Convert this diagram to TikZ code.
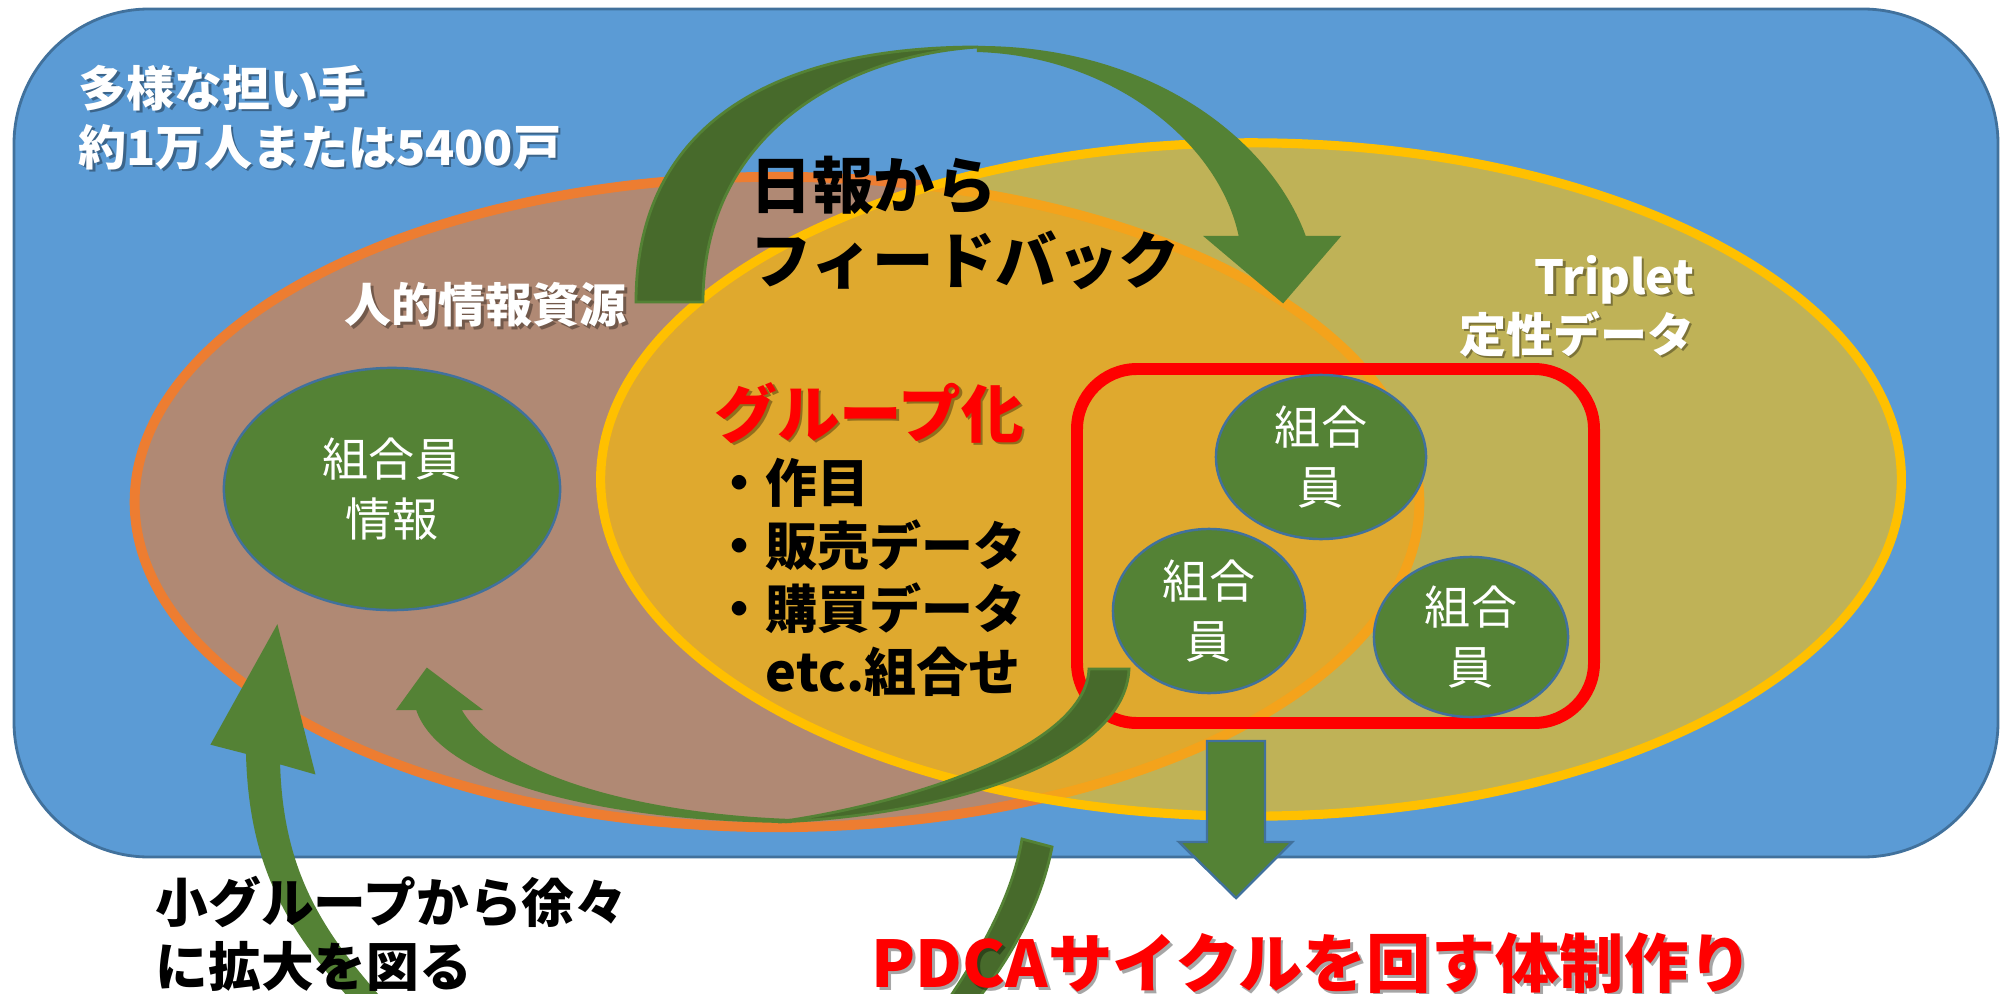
\documentclass[tikz,border=0pt]{standalone}
\usepackage{fontspec}
\setmainfont{Noto Sans CJK JP}
\usetikzlibrary{shapes.geometric}
\definecolor{bgblue}{HTML}{5B9BD5}
\definecolor{bgedge}{HTML}{41719C}
\definecolor{orfill}{HTML}{B08974}
\definecolor{oredge}{HTML}{ED7D31}
\definecolor{yefill}{HTML}{BFB257}
\definecolor{yeedge}{HTML}{FFC000}
\definecolor{goldmix}{HTML}{DFA92E}
\definecolor{ormix}{HTML}{F4A31B}
\definecolor{grn}{HTML}{548235}
\definecolor{dkgrn}{HTML}{476A2B}
\definecolor{redbox}{HTML}{FF0000}
\newcommand{\fsz}[2]{\fontsize{#1}{#2}\selectfont}
\tikzset{
  member/.style={ellipse, draw=bgedge, line width=0.7pt, fill=grn, text=white,
    align=center, inner sep=0pt, font=\fsz{13.1pt}{16.8pt}},
  lab/.style={inner sep=0pt, font=\bfseries},
  shadowlab/.style={text=black, opacity=0.35},
  lightarrow/.style={fill=grn, draw=grn, line width=0.6pt},
  darkarrow/.style={fill=dkgrn, draw=grn, line width=0.8pt},
}
\begin{document}
\begin{tikzpicture}[x=0.01cm,y=-0.01cm]
\useasboundingbox (0,0) rectangle (2000,994);
% background panel
\draw[fill=bgblue, draw=bgedge, line width=0.8pt, rounded corners=1.35cm] (14,9) rectangle (1998,857);
% human information resources ellipse
\draw[fill=orfill, draw=oredge, line width=2.8pt] (777,502) ellipse [x radius=6.42cm, y radius=3.25cm];
% triplet ellipse
\fill[yefill] (1251,479.5) ellipse [x radius=6.5cm, y radius=3.365cm];
\begin{scope}
  \clip (1251,479.5) ellipse [x radius=6.5cm, y radius=3.365cm];
  \fill[goldmix] (777,502) ellipse [x radius=6.42cm, y radius=3.25cm];
  \draw[ormix, line width=2.8pt] (777,502) ellipse [x radius=6.42cm, y radius=3.25cm];
\end{scope}
\draw[yeedge, line width=2.6pt] (1251,479.5) ellipse [x radius=6.5cm, y radius=3.365cm];
% red group box
\draw[redbox, line width=3.4pt, rounded corners=0.6cm] (1077,369) rectangle (1594,723);
% feedback arrow (top)
\path[darkarrow] (636,302) .. controls (636,120) and (780,47) .. (978,47)
  .. controls (850,55) and (703,130) .. (703,302) -- cycle;
\path[lightarrow] (978,47) .. controls (1150,47) and (1270,140) .. (1305,237)
  -- (1339,237) -- (1283,302) -- (1206,237) -- (1240,237)
  .. controls (1220,140) and (1110,55) .. (978,51) -- cycle;
% arrow from group box back to resources
\path[darkarrow] (1089,669) -- (1129,669) .. controls (1125,760) and (950,815) .. (778,822)
  .. controls (900,805) and (1085,750) .. (1089,669) -- cycle;
\path[lightarrow] (790,822) .. controls (600,820) and (440,780) .. (417,709)
  -- (398,709) -- (427,669) -- (480,709) -- (460,709)
  .. controls (500,780) and (650,815) .. (790,820) -- cycle;
% expansion arrow (bottom)
\path[darkarrow] (1022,839) -- (1052,847) .. controls (1040,910) and (1005,965) .. (977,1000)
  -- (948,1000) .. controls (975,960) and (1012,900) .. (1022,839) -- cycle;
\path[lightarrow] (352,1000) .. controls (290,930) and (250,870) .. (247,753)
  -- (212,744) -- (277,627) -- (314,773) -- (279,763)
  .. controls (282,870) and (320,930) .. (382,1000) -- cycle;
% down arrow
\draw[fill=grn, draw=bgedge, line width=0.7pt] (1207,741) -- (1265,741) -- (1265,842) -- (1292,842)
  -- (1236,898) -- (1179,842) -- (1207,842) -- cycle;
% member ellipses
\node[member, minimum width=3.36cm, minimum height=2.42cm] (m0) at (392,489) {組合員\\情報};
\node[member, minimum width=2.10cm, minimum height=1.64cm] (m1) at (1321,457) {組合\\員};
\node[member, minimum width=1.92cm, minimum height=1.64cm] (m2) at (1209,611) {組合\\員};
\node[member, minimum width=1.94cm, minimum height=1.60cm] (m3) at (1471,637) {組合\\員};
% labels
\node[lab, shadowlab, anchor=west, align=left, font=\bfseries\fsz{13.66pt}{16.8pt}] (t1s) at (80.5,120) {多様な担い手\\約1万人または5400戸};
\node[lab, text=white, anchor=west, align=left, font=\bfseries\fsz{13.66pt}{16.8pt}] (t1) at (78,117.5) {多様な担い手\\約1万人または5400戸};
\node[lab, shadowlab, anchor=west, font=\bfseries\fsz{13.37pt}{16pt}] (t2s) at (346.5,307.5) {人的情報資源};
\node[lab, text=white, anchor=west, font=\bfseries\fsz{13.37pt}{16pt}] (t2) at (344,305) {人的情報資源};
\node[lab, text=black, anchor=west, align=left, font=\bfseries\fsz{17.5pt}{21.05pt}] (t3) at (750,223) {日報から\\フィードバック};
\node[lab, shadowlab, anchor=east, align=right, font=\bfseries\fsz{13.37pt}{16.5pt}] (t4s) at (1697.5,308.5) {Triplet\\定性データ};
\node[lab, text=white, anchor=east, align=right, font=\bfseries\fsz{13.37pt}{16.5pt}] (t4) at (1695,306) {Triplet\\定性データ};
\node[lab, shadowlab, anchor=west, font=\bfseries\fsz{17.8pt}{20pt}] (t5s) at (716.5,415.5) {グループ化};
\node[lab, text=redbox, anchor=west, font=\bfseries\fsz{17.8pt}{20pt}] (t5) at (714,413) {グループ化};
\node[lab, text=black, anchor=west, align=left, font=\bfseries\fsz{14.8pt}{17.9pt}] (t6) at (713,577) {・作目\\・販売データ\\・購買データ\\　etc.組合せ};
\node[lab, text=black, anchor=west, align=left, font=\bfseries\fsz{15pt}{18.2pt}] (t7) at (155,934) {小グループから徐々\\に拡大を図る};
\node[lab, shadowlab, anchor=west, font=\bfseries\fsz{18.3pt}{20pt}] (t8s) at (873.5,966) {PDCAサイクルを回す体制作り};
\node[lab, text=redbox, anchor=west, font=\bfseries\fsz{18.3pt}{20pt}] (t8) at (871,963.5) {PDCAサイクルを回す体制作り};
\end{tikzpicture}
\end{document}
